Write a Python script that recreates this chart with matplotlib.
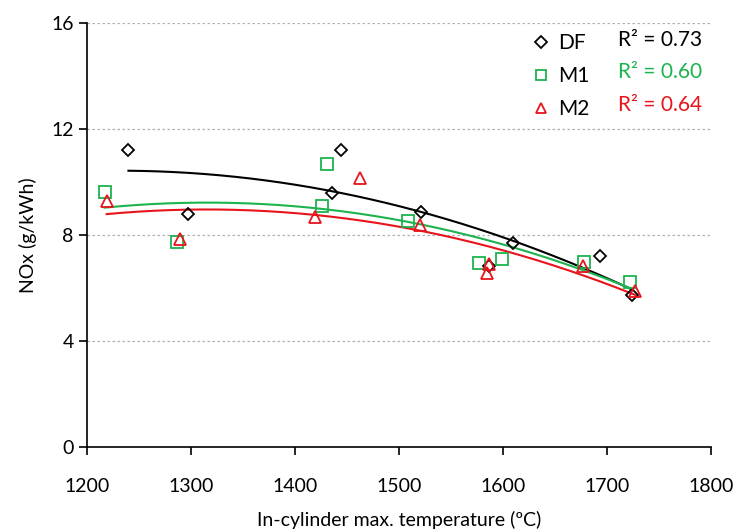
import numpy as np
import matplotlib
matplotlib.use('Agg')
import matplotlib.pyplot as plt
from matplotlib.lines import Line2D

plt.rcParams['font.family'] = ['Lato', 'DejaVu Sans']

df_temp = [1240, 1297, 1436, 1444, 1521, 1587, 1610, 1693, 1724]
df_nox = [11.2, 8.8, 9.6, 11.2, 8.88, 6.84, 7.7, 7.21, 5.74]

m1_temp = [1217, 1287, 1426, 1431, 1509, 1577, 1599, 1678, 1722]
m1_nox = [9.63, 7.72, 9.09, 10.67, 8.53, 6.93, 7.09, 6.97, 6.24]

m2_temp = [1219, 1290, 1419, 1463, 1520, 1585, 1587, 1677, 1727]
m2_nox = [9.29, 7.84, 8.69, 10.14, 8.38, 6.58, 6.9, 6.84, 5.9]

series_names = ['DF', 'M1', 'M2']
r2_labels = ['R\u00b2 = 0.73', 'R\u00b2 = 0.60', 'R\u00b2 = 0.64']
colors = ['black', '#1db34f', '#e8141c']
markers = ['D', 's', '^']

fig = plt.figure(figsize=(7.36, 5.31), dpi=100)
ax = fig.add_axes([0.118, 0.158, 0.848, 0.799])

data = [(df_temp, df_nox), (m1_temp, m1_nox), (m2_temp, m2_nox)]
for (t, n), c, m in zip(data, colors, markers):
    t = np.array(t)
    n = np.array(n)
    ms = 6.5 if m == 'D' else 8
    ax.plot(t, n, linestyle='none', marker=m, markersize=ms, markerfacecolor='none',
            markeredgecolor=c, markeredgewidth=1.3, zorder=3)
    # 2nd order polynomial trendline
    coef = np.polyfit(t, n, 2)
    xs = np.linspace(t.min(), t.max(), 200)
    ax.plot(xs, np.polyval(coef, xs), color=c, linewidth=1.5, zorder=2)

ax.set_xlim(1200, 1800)
ax.set_ylim(0, 16)
ax.set_xticks(np.arange(1200, 1801, 100))
ax.set_yticks(np.arange(0, 17, 4))
ax.yaxis.grid(True, linestyle=(0, (2, 2)), color='#b0b0b0', linewidth=0.9)
ax.set_axisbelow(True)
for s in ['top', 'right']:
    ax.spines[s].set_visible(False)
for s in ['left', 'bottom']:
    ax.spines[s].set_linewidth(1.2)
ax.tick_params(axis='both', labelsize=14, length=6, width=1.2, direction='out')
ax.tick_params(axis='x', pad=16)

ax.set_xlabel('In-cylinder max. temperature (\u00baC)', fontsize=14, labelpad=12)
ax.set_ylabel('NOx (g/kWh)', fontsize=14, labelpad=10)

handles = [Line2D([], [], linestyle='none', marker=m, markersize=(6 if m == 'D' else 7),
                  markerfacecolor='none', markeredgecolor=c, markeredgewidth=1.3)
           for m, c in zip(markers, colors)]
ax.legend(handles, series_names, loc='upper left', bbox_to_anchor=(0.685, 1.02),
          frameon=False, fontsize=15, handlelength=0.8, handletextpad=0.4,
          labelspacing=0.62)

for i, (lab, c) in enumerate(zip(r2_labels, colors)):
    ax.text(0.851, 0.96 - i * 0.0765, lab, transform=ax.transAxes, color=c,
            fontsize=15, va='center', ha='left')

fig.savefig('out.png', dpi=100)
